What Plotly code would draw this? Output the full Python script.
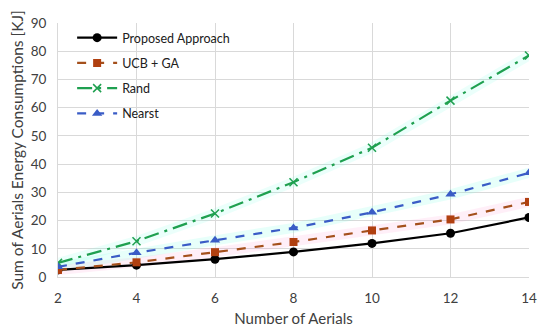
import plotly.graph_objects as go

aerials = [2, 4, 6, 8, 10, 12, 14]
proposed = [2.5, 4.2, 6.3, 8.9, 11.9, 15.5, 21.1]
ucb_ga = [2.5, 5.2, 8.8, 12.4, 16.5, 20.4, 26.6]
rand = [5.0, 12.7, 22.5, 33.6, 45.8, 62.5, 78.5]
nearst = [3.6, 8.6, 13.0, 17.4, 22.9, 29.3, 36.9]

fig = go.Figure()

# soft glow underlays
fig.add_trace(go.Scatter(x=aerials, y=ucb_ga, mode="lines", showlegend=False, hoverinfo="skip",
                         line=dict(color="rgba(255,120,200,0.12)", width=10)))
fig.add_trace(go.Scatter(x=aerials, y=rand, mode="lines", showlegend=False, hoverinfo="skip",
                         line=dict(color="rgba(120,255,230,0.15)", width=10)))
fig.add_trace(go.Scatter(x=aerials, y=nearst, mode="lines", showlegend=False, hoverinfo="skip",
                         line=dict(color="rgba(120,255,230,0.18)", width=10)))

fig.add_trace(go.Scatter(x=aerials, y=proposed, name="Proposed Approach", mode="lines+markers",
                         legendgroup="a",
                         line=dict(color="black", width=2.2),
                         marker=dict(symbol="circle", size=9, color="black")))
fig.add_trace(go.Scatter(x=aerials, y=ucb_ga, name="UCB + GA", mode="lines+markers",
                         legendgroup="b",
                         line=dict(color="#a4501c", width=2.2, dash="dash"),
                         marker=dict(symbol="square", size=8, color="#b04010")))
fig.add_trace(go.Scatter(x=aerials, y=rand, name="Rand", mode="lines+markers",
                         legendgroup="c",
                         line=dict(color="#1fa050", width=2.2, dash="longdashdot"),
                         marker=dict(symbol="x-thin", size=8, line=dict(color="#1fa050", width=1.5))))
fig.add_trace(go.Scatter(x=aerials, y=nearst, name="Nearst", mode="lines+markers",
                         legendgroup="d",
                         line=dict(color="#3a5cc6", width=2.2, dash="dash"),
                         marker=dict(symbol="triangle-up", size=9, color="#3a5cc6")))

font_family = "Lato, 'Open Sans', sans-serif"
# the page body adds an 8px offset; margins compensate so the plot area lands
# at page x 58..529, y 15..277
fig.update_layout(
    width=550, height=335,
    margin=dict(l=50, r=29, t=7, b=66),
    paper_bgcolor="white", plot_bgcolor="white",
    font=dict(family=font_family, size=13, color="#404040"),
    legend=dict(x=0.03, y=1.0, xanchor="left", yanchor="top",
                bgcolor="rgba(0,0,0,0)", font=dict(size=12.5, color="#202020"),
                tracegroupgap=6, itemwidth=40),
    showlegend=True,
)
fig.update_xaxes(range=[2, 14], tickvals=aerials, ticktext=[str(a) for a in aerials],
                 showgrid=True, gridcolor="#d9d9d9", gridwidth=1,
                 showline=True, linecolor="#d9d9d9", mirror=False, zeroline=False,
                 ticks="", ticklabelstandoff=9, ticklabeloverflow="allow",
                 title=dict(text="Number of Aerials", font=dict(size=15, color="#404040"), standoff=8),
                 tickfont=dict(size=13.5, color="#404040"))
fig.update_yaxes(range=[0, 90], dtick=10,
                 showgrid=True, gridcolor="#d9d9d9", gridwidth=1,
                 showline=True, linecolor="#d9d9d9", zeroline=False,
                 ticks="", ticklabelstandoff=8, ticklabeloverflow="allow",
                 title=dict(text="Sum of Aerials Energy Consumptions [KJ]", font=dict(size=15.5, color="#404040"), standoff=5),
                 tickfont=dict(size=13.5, color="#404040"))

fig.write_html("out.html")
